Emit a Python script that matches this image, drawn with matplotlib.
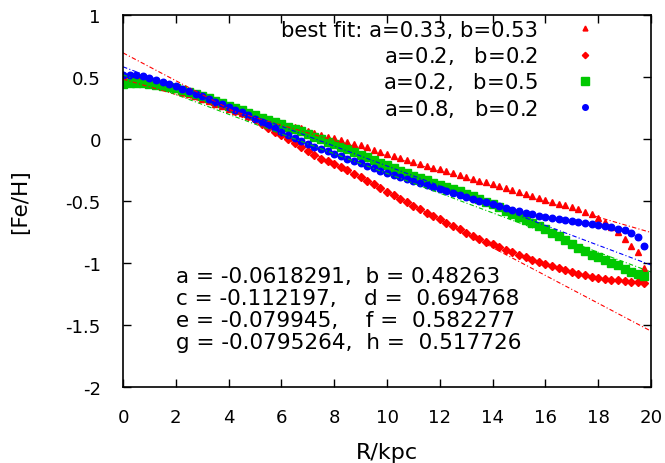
import numpy as np
import matplotlib
matplotlib.use("Agg")
import matplotlib.pyplot as plt

# ---------------- data ----------------
R = [i * 0.25 for i in range(80)]  # radius in kpc, 0 .. 19.75

best_fit = [0.49, 0.49, 0.485, 0.475, 0.463, 0.449, 0.434, 0.418, 0.401, 0.383,
            0.364, 0.345, 0.325, 0.305, 0.285, 0.265, 0.245, 0.226, 0.207, 0.189,
            0.175, 0.16, 0.146, 0.132, 0.12, 0.108, 0.097, 0.087, 0.067, 0.05,
            0.032, 0.019, 0.006, -0.008, -0.022, -0.037, -0.052, -0.067, -0.085, -0.102,
            -0.118, -0.135, -0.151, -0.167, -0.183, -0.2, -0.215, -0.23, -0.245, -0.26,
            -0.275, -0.29, -0.305, -0.32, -0.335, -0.35, -0.366, -0.381, -0.397, -0.412,
            -0.428, -0.444, -0.46, -0.476, -0.492, -0.508, -0.522, -0.536, -0.55, -0.565,
            -0.585, -0.605, -0.64, -0.672, -0.71, -0.753, -0.806, -0.86, -0.909, -1.043]

a02_b02 = [0.50, 0.505, 0.50, 0.49, 0.478, 0.463, 0.447, 0.43, 0.412, 0.394,
           0.375, 0.355, 0.334, 0.313, 0.292, 0.271, 0.25, 0.229, 0.207, 0.184,
           0.158, 0.125, 0.09, 0.06, 0.03, 0.0, -0.03, -0.062, -0.095, -0.13,
           -0.158, -0.18, -0.202, -0.225, -0.25, -0.282, -0.31, -0.338, -0.366, -0.395,
           -0.425, -0.453, -0.481, -0.509, -0.537, -0.565, -0.593, -0.62, -0.648, -0.675,
           -0.702, -0.729, -0.755, -0.78, -0.804, -0.827, -0.85, -0.873, -0.895, -0.915,
           -0.935, -0.955, -0.972, -0.989, -1.005, -1.025, -1.043, -1.06, -1.075, -1.088,
           -1.1, -1.11, -1.12, -1.128, -1.135, -1.141, -1.146, -1.151, -1.155, -1.158]

a02_b05 = [0.44, 0.448, 0.452, 0.45, 0.445, 0.438, 0.43, 0.42, 0.408, 0.395,
           0.38, 0.364, 0.347, 0.329, 0.31, 0.29, 0.27, 0.25, 0.23, 0.21,
           0.19, 0.17, 0.152, 0.135, 0.118, 0.1, 0.082, 0.062, 0.042, 0.02,
           -0.002, -0.022, -0.042, -0.063, -0.084, -0.105, -0.126, -0.148, -0.17, -0.19,
           -0.21, -0.232, -0.255, -0.277, -0.298, -0.316, -0.334, -0.351, -0.368, -0.387,
           -0.405, -0.423, -0.442, -0.461, -0.482, -0.505, -0.528, -0.552, -0.577, -0.602,
           -0.627, -0.652, -0.677, -0.702, -0.728, -0.755, -0.785, -0.815, -0.845, -0.875,
           -0.905, -0.932, -0.955, -0.977, -0.998, -1.02, -1.045, -1.07, -1.09, -1.105]

a08_b02 = [0.515, 0.52, 0.515, 0.505, 0.492, 0.476, 0.458, 0.441, 0.424, 0.404,
           0.385, 0.365, 0.344, 0.323, 0.301, 0.28, 0.258, 0.236, 0.214, 0.19,
           0.165, 0.138, 0.11, 0.085, 0.06, 0.035, 0.01, -0.013, -0.04, -0.062,
           -0.082, -0.1, -0.12, -0.14, -0.158, -0.176, -0.197, -0.215, -0.236, -0.256,
           -0.273, -0.29, -0.306, -0.321, -0.336, -0.352, -0.368, -0.384, -0.4, -0.416,
           -0.432, -0.448, -0.464, -0.48, -0.496, -0.511, -0.526, -0.541, -0.555, -0.569,
           -0.582, -0.595, -0.607, -0.618, -0.628, -0.638, -0.647, -0.656, -0.664, -0.672,
           -0.68, -0.688, -0.696, -0.704, -0.713, -0.724, -0.737, -0.755, -0.787, -0.866]

# linear fit parameters (slope, intercept)
fit_ab = (-0.0618291, 0.48263)
fit_cd = (-0.112197, 0.694768)
fit_ef = (-0.079945, 0.582277)
fit_gh = (-0.0795264, 0.517726)

legend_labels = ["best fit: a=0.33, b=0.53",
                 r"a=0.2,   b=0.2$\hspace{0.75}$",
                 r"a=0.2,   b=0.5$\hspace{0.75}$",
                 r"a=0.8,   b=0.2$\hspace{0.75}$"]
fit_text = ["a = -0.0618291,  b = 0.48263",
            "c = -0.112197,    d =  0.694768",
            "e = -0.079945,    f =  0.582277",
            "g = -0.0795264,  h =  0.517726"]

# ---------------- plot ----------------
plt.rcParams['font.family'] = ['DejaVu Sans']
plt.rcParams['mathtext.fontset'] = 'dejavusans'
fig = plt.figure(figsize=(6.65, 4.64), dpi=100)
ax = fig.add_axes([123 / 665, 1 - 388 / 464, 528 / 665, 372 / 464])

red = '#ff0000'
green = '#00c800'
blue = '#0000ff'

h1, = ax.plot(R, best_fit, linestyle='none', marker='^', ms=4.4, color=red, mec=red)
h2, = ax.plot(R, a02_b02, linestyle='none', marker='D', ms=4.0, color=red, mec=red)
h3, = ax.plot(R, a02_b05, linestyle='none', marker='s', ms=5.3, color=green, mec=green)
h4, = ax.plot(R, a08_b02, linestyle='none', marker='o', ms=4.7, color=blue, mec=blue)

xl = np.array([0.0, 20.0])
for (m, c), col in [(fit_ab, red), (fit_cd, red), (fit_ef, blue), (fit_gh, green)]:
    ax.plot(xl, m * xl + c, color=col, lw=0.8, linestyle=(0, (4, 2, 1, 2)))

leg = ax.legend([h1, h2, h3, h4], legend_labels, loc='upper right', markerfirst=False,
                frameon=False, fontsize=15.2, handlelength=1.0, handletextpad=1.75,
                labelspacing=0.2, borderaxespad=0.0, borderpad=0.0,
                bbox_to_anchor=(0.895, 0.987))
for lh, s in zip(leg.legend_handles, [3.5, 3.2, 5.5, 4.0]):
    lh.set_markersize(s)

for i, t in enumerate(fit_text):
    ax.text(0.1, 0.298 - i * 0.059, t, transform=ax.transAxes, fontsize=15.5,
            ha='left', va='center')

ax.set_xlim(0, 20)
ax.set_ylim(-2, 1)
ax.set_xticks(np.arange(0, 21, 2))
ax.set_yticks(np.arange(-2, 1.01, 0.5))
ax.set_yticklabels(['-2', '-1.5', '-1', '-0.5', '0', '0.5', '1'])
ax.tick_params(direction='in', length=6, width=1, top=True, right=True, labelsize=13.1)
ax.tick_params(axis='x', pad=15)
ax.tick_params(axis='y', pad=16)
for sp in ax.spines.values():
    sp.set_linewidth(1.2)

ax.set_xlabel('R/kpc', fontsize=16)
ax.set_ylabel('[Fe/H]', fontsize=15.5)
ax.xaxis.set_label_coords(0.5, -0.148)
ax.yaxis.set_label_coords(-0.175, 0.5)

fig.savefig('out.png', dpi=100)
